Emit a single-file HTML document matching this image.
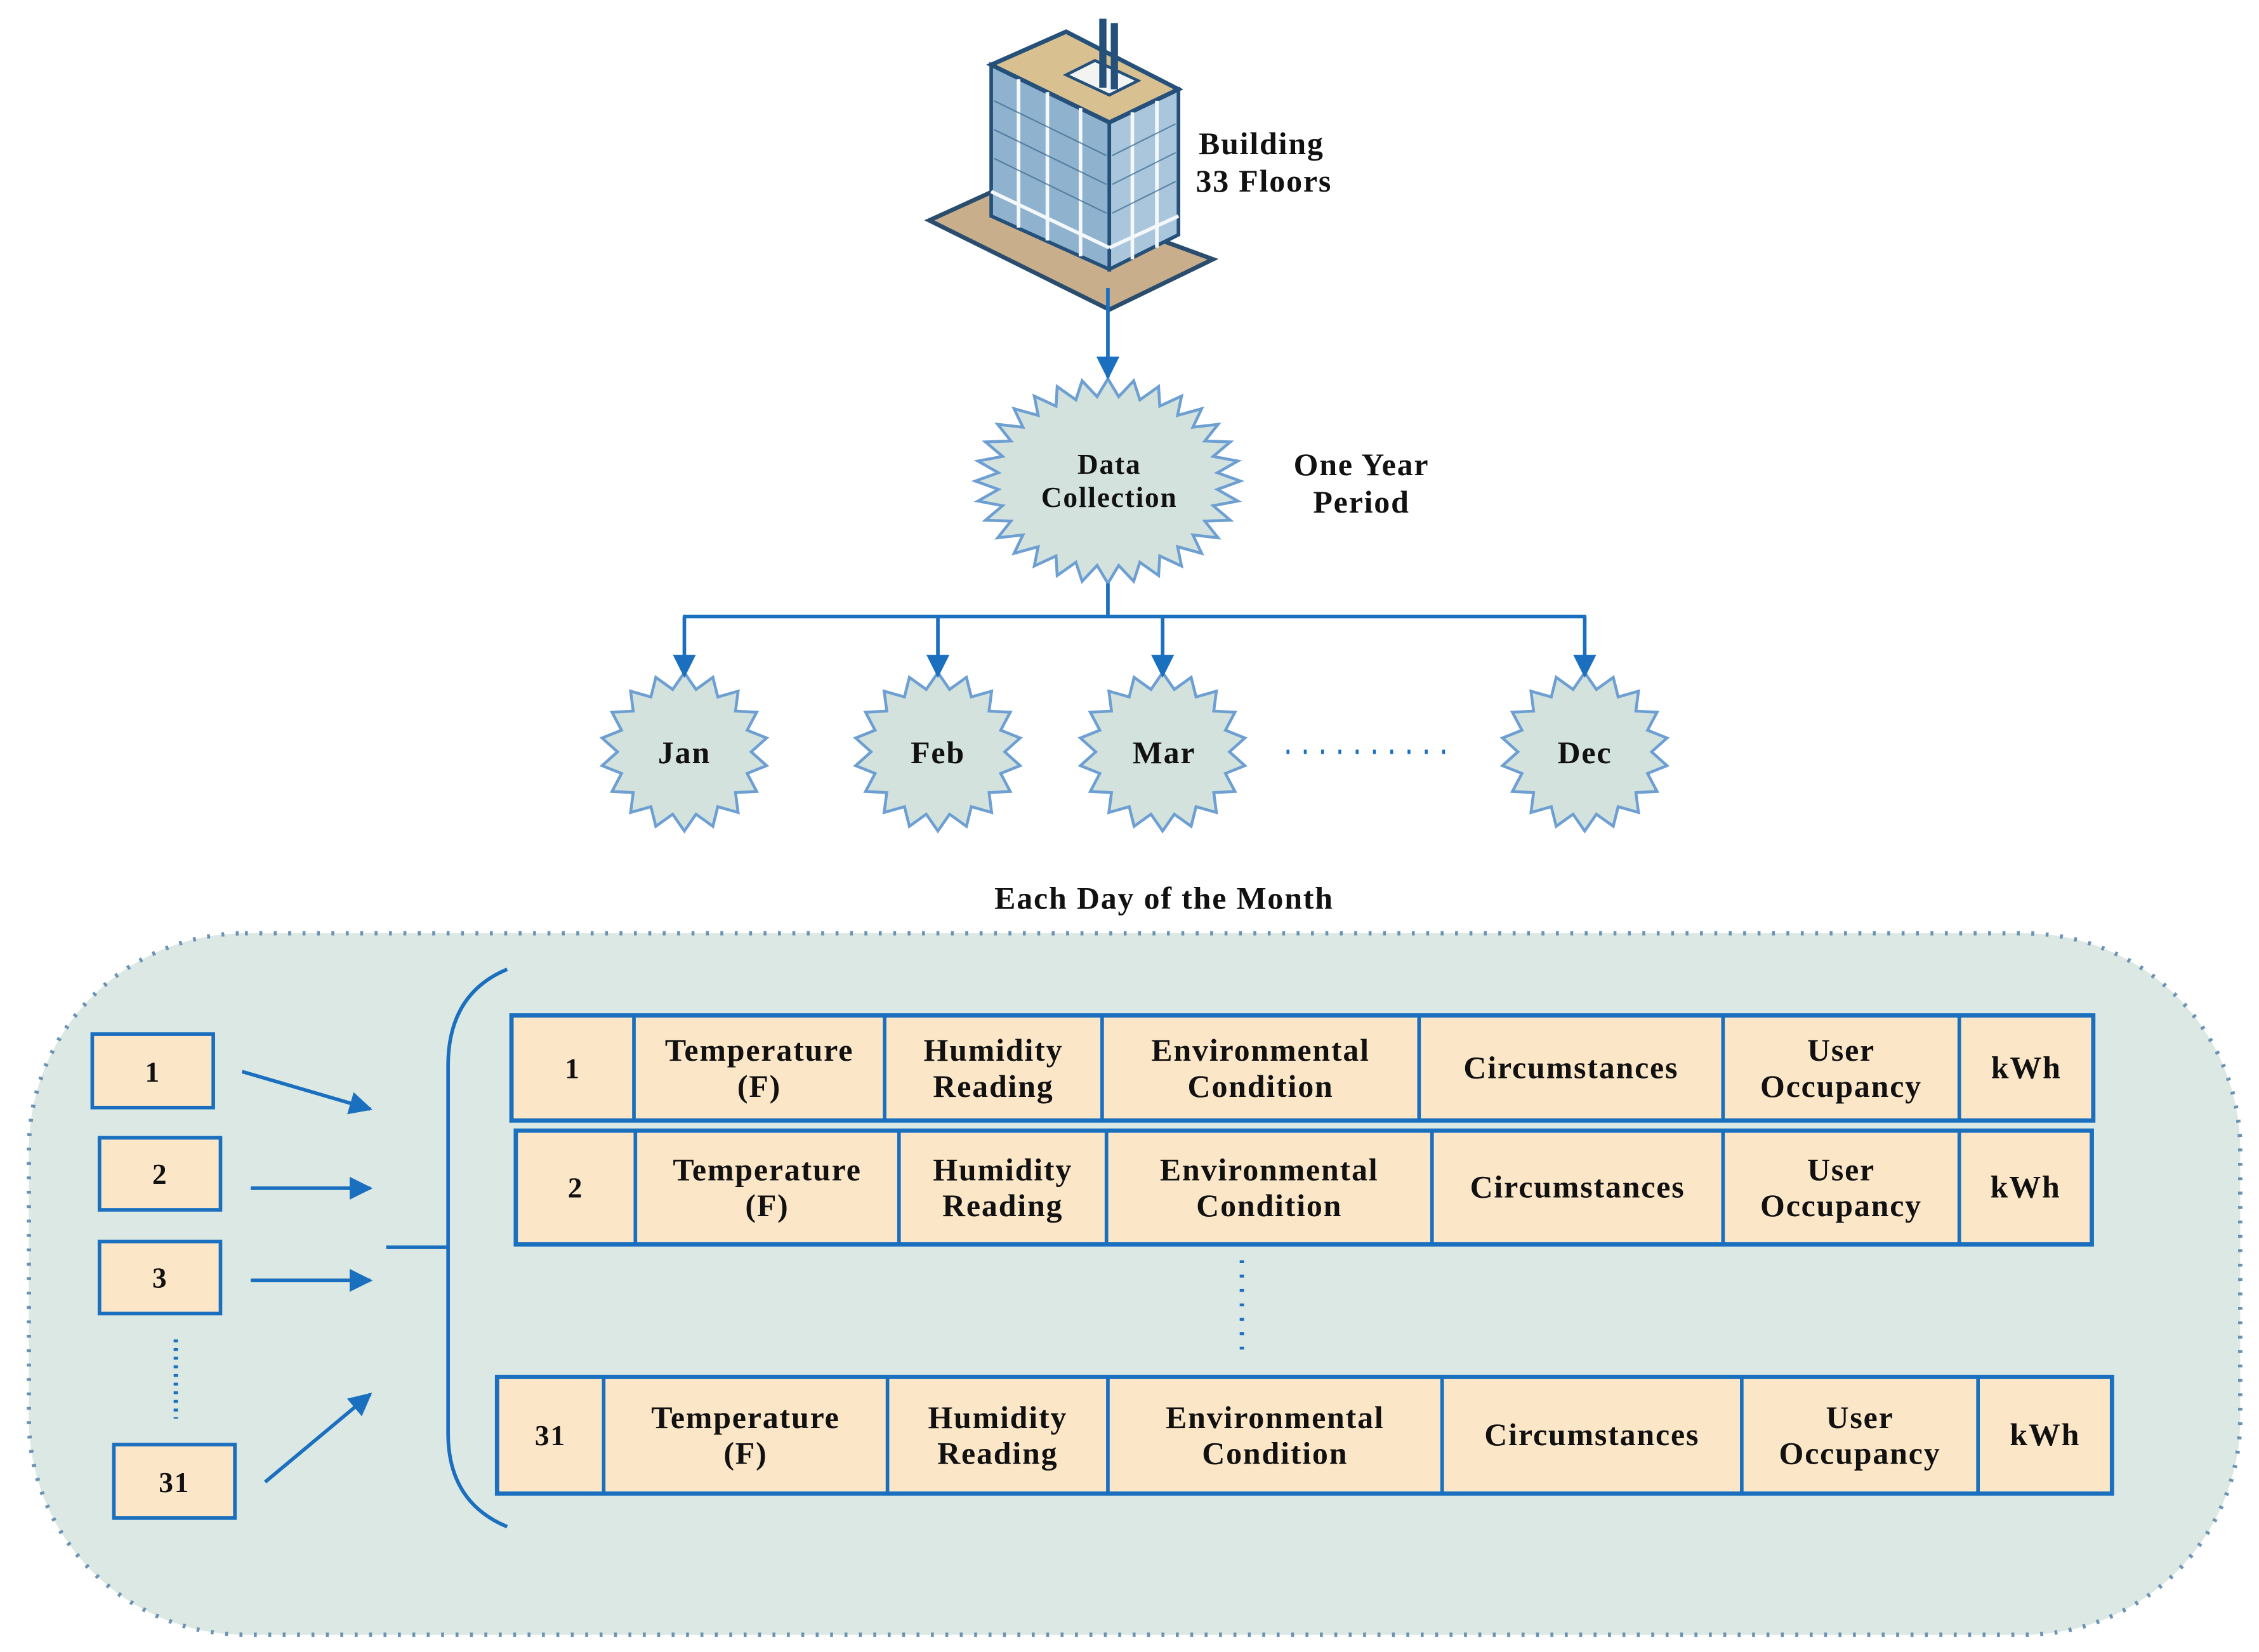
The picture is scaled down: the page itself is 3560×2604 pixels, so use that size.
<!DOCTYPE html>
<html><head><meta charset="utf-8"><style>
html,body{margin:0;padding:0;background:#fff;}
svg{display:block;}
text{font-family:"Liberation Serif",serif;font-weight:bold;fill:#111;letter-spacing:0.8px;}
</style></head><body>
<svg id="s" width="3560" height="2604" viewBox="0 0 1568 1147" xmlns="http://www.w3.org/2000/svg">
<defs>
<marker id="ab" viewBox="0 0 10 10" refX="9" refY="5" markerWidth="16" markerHeight="16" orient="auto" markerUnits="userSpaceOnUse">
<path d="M0,0 L10,5 L0,10 z" fill="#1a6fbf"/></marker>
</defs>
<g id="stars"></g>
<!-- building -->
<polygon points="645,153 700,128 842,180 770,215" fill="#c9ae8c" stroke="#2a4d6e" stroke-width="3"/>
<polygon points="688,45 770,85 770,187 688,150" fill="#8fb3cf" stroke="#24507a" stroke-width="2.5"/>
<polygon points="770,85 818,62 818,163 770,187" fill="#a9c6dc" stroke="#24507a" stroke-width="2.5"/>
<polygon points="688,45 740,22 818,62 770,85" fill="#d8c090" stroke="#24507a" stroke-width="3"/>
<polygon points="740,52 760,42 790,56 770,66" fill="#f2f4f2" stroke="#24507a" stroke-width="2"/>
<rect x="763" y="13" width="5" height="48" fill="#24507a"/><rect x="771" y="16" width="5" height="46" fill="#24507a"/>
<g stroke="#f4f8fb" stroke-width="2.5">
<line x1="707" y1="55" x2="707" y2="158"/><line x1="727" y1="64" x2="727" y2="167"/><line x1="750" y1="75" x2="750" y2="178"/>
<line x1="786" y1="78" x2="786" y2="180"/><line x1="803" y1="70" x2="803" y2="172"/>
<line x1="688" y1="133" x2="770" y2="172"/><line x1="770" y1="172" x2="818" y2="150"/>
</g>
<g stroke="#3d6a91" stroke-width="1" opacity=".7">
<line x1="690" y1="70" x2="768" y2="108"/><line x1="690" y1="90" x2="768" y2="128"/><line x1="690" y1="110" x2="768" y2="148"/>
<line x1="772" y1="108" x2="816" y2="86"/><line x1="772" y1="128" x2="816" y2="106"/><line x1="772" y1="148" x2="816" y2="126"/>
</g>
<text x="832" y="107" font-size="22">Building</text>
<text x="830" y="133" font-size="22">33 Floors</text>
<!-- connectors -->
<line x1="769" y1="200" x2="769" y2="262" stroke="#1a6fbf" stroke-width="2.5" marker-end="url(#ab)"/>
<line x1="769" y1="405" x2="769" y2="428" stroke="#1a6fbf" stroke-width="2.5"/>
<line x1="474" y1="428" x2="1101" y2="428" stroke="#1a6fbf" stroke-width="2.5"/>
<g stroke="#1a6fbf" stroke-width="2.5" marker-end="url(#ab)">
<line x1="475" y1="428" x2="475" y2="469"/><line x1="651" y1="428" x2="651" y2="469"/>
<line x1="807" y1="428" x2="807" y2="469"/><line x1="1100" y1="428" x2="1100" y2="469"/>
</g>
<text x="770" y="329" font-size="20" text-anchor="middle">Data</text>
<text x="770" y="352" font-size="20" text-anchor="middle">Collection</text>
<text x="945" y="330" font-size="22" text-anchor="middle">One Year</text>
<text x="945" y="356" font-size="22" text-anchor="middle">Period</text>
<text x="475" y="530" font-size="22" text-anchor="middle">Jan</text>
<text x="651" y="530" font-size="22" text-anchor="middle">Feb</text>
<text x="808" y="530" font-size="22" text-anchor="middle">Mar</text>
<text x="1100" y="530" font-size="22" text-anchor="middle">Dec</text>
<line x1="893" y1="522" x2="1010" y2="522" stroke="#1a6fbf" stroke-width="3" stroke-dasharray="2,10"/>
<text x="808" y="631" font-size="22" text-anchor="middle">Each Day of the Month</text>
<!-- dotted region -->
<rect x="20" y="648" width="1535" height="487" rx="150" ry="150" fill="#dce8e3" stroke="#6a92b5" stroke-width="3" stroke-dasharray="2,8"/>
<g fill="#fbe7c8" stroke="#1a6fbf" stroke-width="2.5">
<rect x="64" y="718" width="84" height="51"/><rect x="69" y="790" width="84" height="50"/>
<rect x="69" y="862" width="84" height="50"/><rect x="79" y="1003" width="84" height="51"/>
</g>
<text x="106" y="751" font-size="20" text-anchor="middle">1</text>
<text x="111" y="822" font-size="20" text-anchor="middle">2</text>
<text x="111" y="894" font-size="20" text-anchor="middle">3</text>
<text x="121" y="1036" font-size="20" text-anchor="middle">31</text>
<line x1="122" y1="930" x2="122" y2="985" stroke="#1a6fbf" stroke-width="3" stroke-dasharray="2,4"/>
<g stroke="#1a6fbf" stroke-width="2.5" marker-end="url(#ab)">
<line x1="168" y1="744" x2="257" y2="770"/><line x1="174" y1="825" x2="257" y2="825"/>
<line x1="174" y1="889" x2="257" y2="889"/><line x1="184" y1="1029" x2="257" y2="968"/>
</g>
<line x1="268" y1="866" x2="311" y2="866" stroke="#1a6fbf" stroke-width="2.5"/>
<path d="M352,673 Q311,690 311,740 L311,995 Q311,1043 352,1060" fill="none" stroke="#1a6fbf" stroke-width="2.5"/>
<line x1="862" y1="875" x2="862" y2="945" stroke="#1a6fbf" stroke-width="3" stroke-dasharray="2,8"/>
<g id="rows"></g>
</svg>
<script>
var NS="http://www.w3.org/2000/svg";
function el(t,a,p,txt){var e=document.createElementNS(NS,t);for(var k in a)e.setAttribute(k,a[k]);if(txt!=null)e.textContent=txt;p.appendChild(e);return e;}
var sg=document.getElementById('stars');
function star(cx,cy,rx,ry,ri,n){var pts=[];for(var i=0;i<2*n;i++){var f=i%2?ri:1;var a=Math.PI*i/n-Math.PI/2;pts.push((cx+rx*f*Math.cos(a)).toFixed(1)+','+(cy+ry*f*Math.sin(a)).toFixed(1));}
el('polygon',{points:pts.join(' '),fill:'#d3e2dd',stroke:'#6d9fd2','stroke-width':2},sg);}
star(769,334,92,71,0.83,32);
[475,651,807,1100].forEach(function(x){star(x,522,58,55,0.8,18);});
var rg=document.getElementById('rows');
var rows=[
{y:705,h:73,c:[355,440,614,765,985,1196,1360,1453],n:'1',nb:false},
{y:785,h:79,c:[358,441,624,768,994,1196,1360,1452],n:'2',nb:false},
{y:956,h:81,c:[345,419,616,769,1001,1209,1373,1466],n:'31',nb:true}];
var labels=[null,['Temperature','(F)'],['Humidity','Reading'],['Environmental','Condition'],['Circumstances'],['User','Occupancy'],['kWh']];
rows.forEach(function(r){
 el('rect',{x:r.c[0],y:r.y,width:r.c[7]-r.c[0],height:r.h,fill:'#fbe7c8',stroke:'#1a6fbf','stroke-width':3},rg);
 for(var i=1;i<7;i++)el('line',{x1:r.c[i],y1:r.y,x2:r.c[i],y2:r.y+r.h,stroke:'#1a6fbf','stroke-width':2.5},rg);
 var cy=r.y+r.h/2;
 for(var i=0;i<7;i++){var cx=(r.c[i]+r.c[i+1])/2;
  var L=i==0?[r.n]:labels[i];
  if(L.length==1){var t=el('text',{x:cx,y:cy+7,'font-size':i==0?20:22,'text-anchor':'middle'},rg,L[0]);if(i==0&&!r.nb)t.setAttribute('font-weight','normal');}
  else{el('text',{x:cx,y:cy-5,'font-size':22,'text-anchor':'middle'},rg,L[0]);el('text',{x:cx,y:cy+20,'font-size':22,'text-anchor':'middle'},rg,L[1]);}
 }
});
</script>
</body></html>
